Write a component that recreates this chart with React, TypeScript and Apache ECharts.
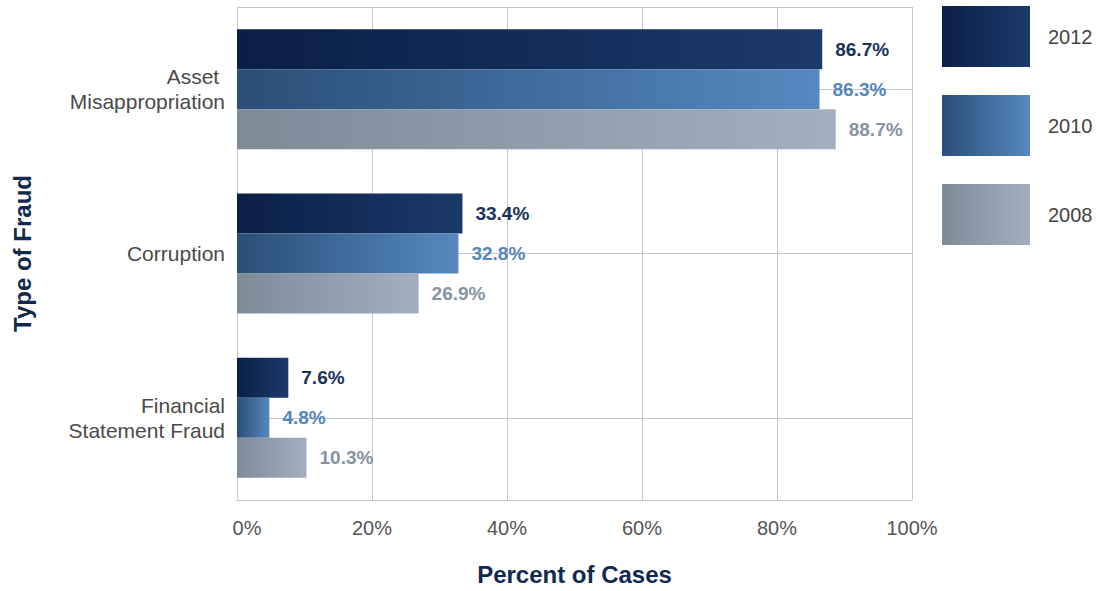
import React, { useEffect, useRef } from "react";
import * as echarts from "echarts";

const categories = ["Asset \nMisappropriation", "Corruption", "Financial\nStatement Fraud"];
const years = ["2012", "2010", "2008"];
const values2012 = [86.7, 33.4, 7.6];
const values2010 = [86.3, 32.8, 4.8];
const values2008 = [88.7, 26.9, 10.3];
const xTicks = [0, 20, 40, 60, 80, 100];
const gridSlots = ["", "", "", "", "", "", ""];

const GRID = "#c6c6c6";

function grad(a: string, b: string) {
  return new echarts.graphic.LinearGradient(0, 0, 1, 0, [
    { offset: 0, color: a },
    { offset: 1, color: b },
  ]);
}

export default function App() {
  const ref = useRef<HTMLDivElement>(null);
  useEffect(() => {
    if (!ref.current) return;
    const chart = echarts.init(ref.current, undefined, { renderer: "svg" });
    const styles = [
      { fill: grad("#0a1f47", "#1b3a6b"), label: "#17335a" },
      { fill: grad("#2a4e77", "#5689c0"), label: "#5586bd" },
      { fill: grad("#7d8b99", "#a3afbf"), label: "#8593a3" },
    ];
    const data = [values2012, values2010, values2008];
    chart.setOption({
      animation: false,
      textStyle: { fontFamily: "Liberation Sans" },
      grid: { left: 237, width: 675, top: 7, height: 497, containLabel: false },
      legend: {
        orient: "vertical",
        left: 937,
        top: 1,
        itemWidth: 88,
        itemHeight: 61,
        itemGap: 28,
        icon: "rect",
        textStyle: { fontSize: 20, color: "#444", padding: [0, 0, 0, 13] },
        data: years,
      },
      xAxis: [
        {
          type: "value",
          min: 0,
          max: 100,
          interval: 20,
          axisLine: { show: true, lineStyle: { color: GRID } },
          axisTick: { show: false },
          splitLine: { show: true, lineStyle: { color: GRID, width: 1 } },
          axisLabel: {
            formatter: (v: number) =>
              xTicks.includes(v) ? (v === 0 ? "{z|" + v + "%}" : v + "%") : "",
            fontSize: 20,
            color: "#555",
            margin: 18,
            rich: { z: { fontSize: 20, color: "#555", padding: [0, 0, 0, 20] } },
          },
          name: "Percent of Cases",
          nameLocation: "middle",
          nameGap: 62,
          nameTextStyle: { fontSize: 24, fontWeight: "bold", color: "#10294d" },
        },
      ],
      yAxis: [
        {
          type: "category",
          data: categories,
          inverse: true,
          axisLine: { show: true, lineStyle: { color: GRID } },
          axisTick: { show: false },
          splitLine: { show: false },
          axisLabel: {
            fontSize: 21,
            color: "#4a4a4a",
            margin: 12,
            lineHeight: 25,
            align: "right",
          },
          name: "Type of Fraud",
          nameLocation: "middle",
          nameGap: 203,
          nameRotate: 90,
          nameTextStyle: { fontSize: 24, fontWeight: "bold", color: "#10294d" },
        },
        {
          type: "category",
          data: gridSlots,
          boundaryGap: false,
          position: "right",
          axisLine: { show: false },
          axisTick: { show: false },
          axisLabel: { show: false },
          splitLine: {
            show: true,
            interval: (i: number) => i === 0 || i % 2 === 1 || i === 6,
            lineStyle: { color: GRID, width: 1 },
          },
        },
      ],
      series: years.map((y, i) => ({
        name: y,
        type: "bar",
        yAxisIndex: 0,
        data: data[i],
        barWidth: 40,
        barGap: "0%",
        itemStyle: { color: styles[i].fill },
        label: {
          show: true,
          position: "right",
          distance: 13,
          formatter: (p: any) => p.value.toFixed(1) + "%",
          fontSize: 19,
          fontWeight: "bold",
          color: styles[i].label,
        },
      })),
    });
    return () => chart.dispose();
  }, []);
  return <div ref={ref} style={{ width: 1098, height: 591, position: "absolute", left: 0, top: 0 }} />;
}
